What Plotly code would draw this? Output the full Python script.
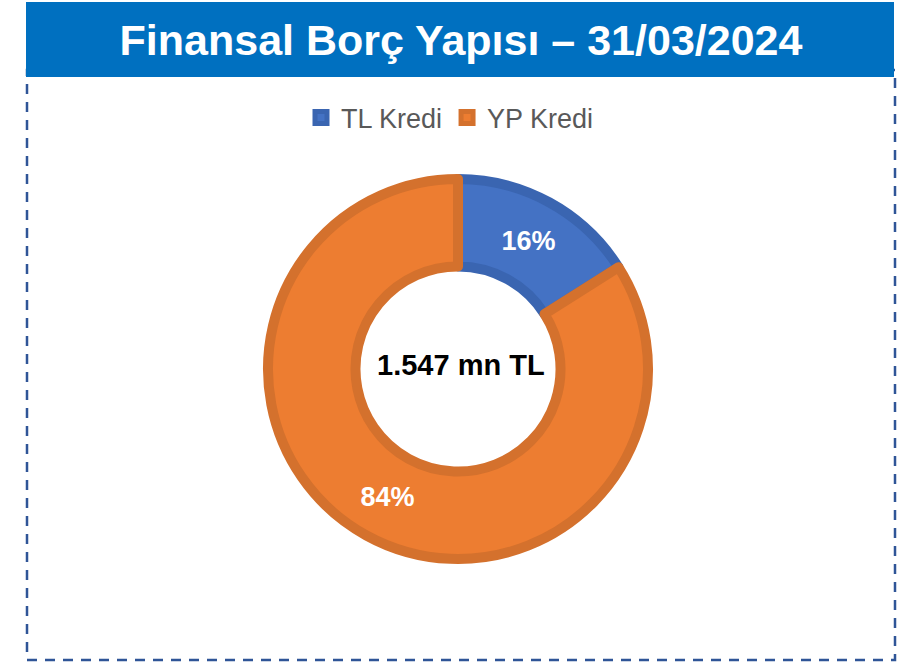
import plotly.graph_objects as go

# ---- data ----
categories = ["TL Kredi", "YP Kredi"]
shares = [16, 84]
total_label = "1.547 mn TL"
title_text = "Finansal Borç Yapısı – 31/03/2024"

fill_colors = ["#4472C4", "#ED7D31"]
edge_colors = ["#3A65B1", "#D4712D"]

W, H = 902, 662
FONT = "Liberation Sans, Arial, sans-serif"

def px_x(x):
    return x / W

def px_y(y):
    return 1 - y / H

fig = go.Figure()
fig.add_trace(go.Pie(
    labels=categories,
    values=shares,
    sort=False,
    direction="clockwise",
    rotation=0,
    hole=0.5395,
    marker=dict(colors=fill_colors, line=dict(color=edge_colors, width=10)),
    texttemplate="%{percent:.0%}",
    textposition="inside",
    insidetextorientation="horizontal",
    textfont=dict(family=FONT, size=27, color="white", weight="bold"),
    hoverinfo="label+percent",
    domain=dict(x=[px_x(268), px_x(648)], y=[px_y(559), px_y(179)]),
))

shapes = [
    # dashed frame
    dict(type="rect", xref="paper", yref="paper",
         x0=px_x(27), x1=px_x(895), y0=px_y(660), y1=px_y(70),
         line=dict(color="#2F5597", width=2.5, dash="10px,8px"),
         fillcolor="rgba(0,0,0,0)", layer="below"),
    # title bar
    dict(type="rect", xref="paper", yref="paper",
         x0=px_x(26), x1=px_x(894), y0=px_y(77), y1=px_y(2),
         line=dict(width=0), fillcolor="#0070C0", layer="below"),
]

fig.update_layout(
    width=W, height=H,
    margin=dict(l=0, r=0, t=0, b=0),
    paper_bgcolor="white",
    plot_bgcolor="white",
    font=dict(family=FONT),
    shapes=shapes,
    title=dict(text=title_text, x=px_x(461), xanchor="center",
               y=px_y(40), yanchor="middle",
               font=dict(family=FONT, size=43, color="white", weight="bold")),
    legend=dict(orientation="h", x=px_x(450), xanchor="center",
                y=px_y(118), yanchor="middle",
                font=dict(family=FONT, size=27, color="#595959"),
                bgcolor="rgba(0,0,0,0)"),
    annotations=[dict(text=total_label, xref="paper", yref="paper",
                      x=px_x(461), y=px_y(365), showarrow=False,
                      xanchor="center", yanchor="middle",
                      font=dict(family=FONT, size=29, color="black", weight="bold"))],
)

fig.write_html("out.html", config={"displayModeBar": False},
               post_script="document.body.style.margin='0';")
